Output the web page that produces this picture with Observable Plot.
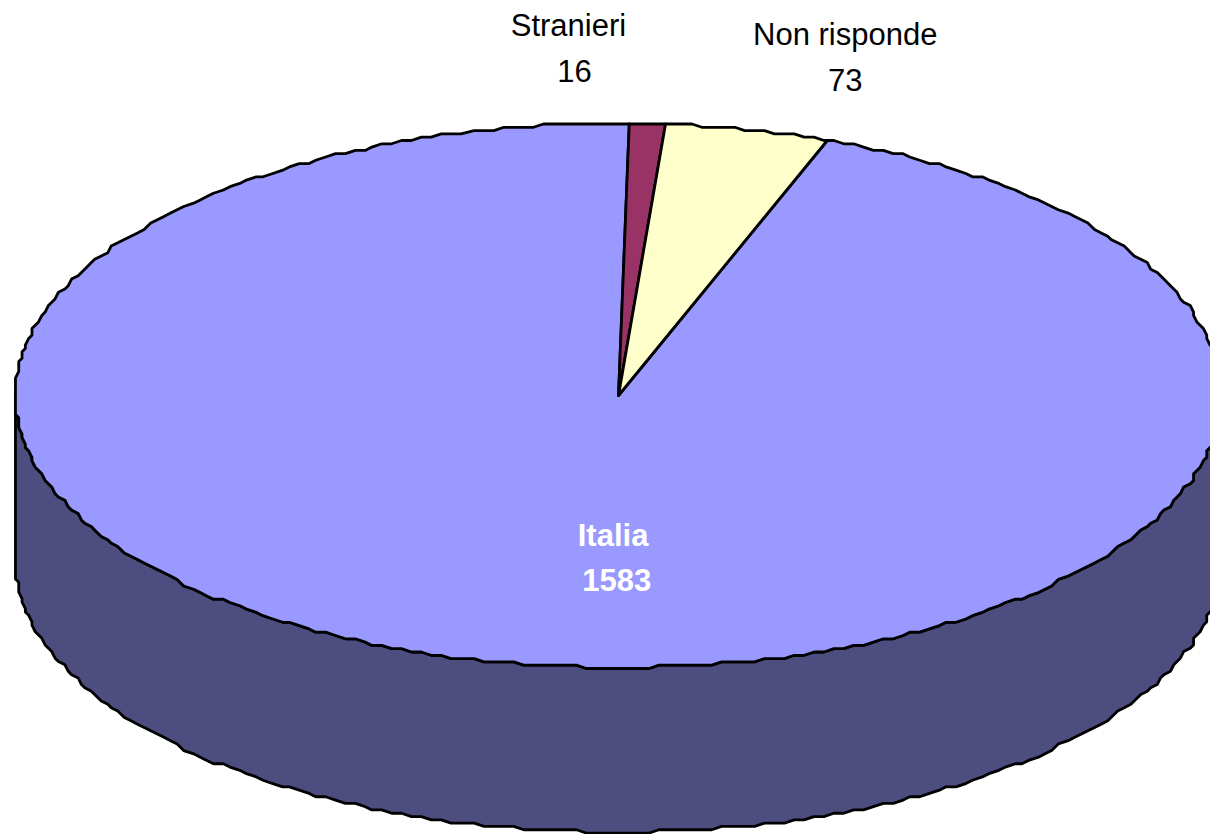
<!DOCTYPE html>
<html>
<head>
<meta charset="utf-8">
<script src="https://cdn.jsdelivr.net/npm/d3@7"></script>
<script src="https://cdn.jsdelivr.net/npm/@observablehq/plot@0.6"></script>
<style>
  html, body { margin: 0; padding: 0; background: #fff; }
  svg { display: block; }
</style>
</head>
<body>
<div id="chart"></div>
<script>
// Survey respondents by origin
const names = ["Stranieri", "Non risponde", "Italia"];
const counts = [16, 73, 1583];
const fills = ["#993366", "#ffffcc", "#9999ff"];
const wallFill = "#4d4d80";

const firstAngle = 1;          // degrees clockwise from the top of the disc
const depth = 0.605;           // disc thickness, in radii of the vertical axis
const rimStep = 1;             // degrees between outline vertices
const gridX = 3.3 / 603;       // coarse outline grid, in disc units
const gridY = 3.3 / 272;
const phaseX = 0.5 * gridX + 1 - 1.6 / 603;
const phaseY = 0.5 * gridY + 1 - 0.66 / 272;

const snap = (v, grid, phase) => Math.round((v + phase) / grid) * grid - phase;

// Point on the rim at a given angle, stepped onto the outline grid
function rim(angle, drop = 0) {
  const a = angle * Math.PI / 180;
  return {
    x: snap(Math.sin(a), gridX, phaseX),
    y: snap(Math.cos(a), gridY, phaseY) - drop
  };
}

// Vertices sit on a fixed angular lattice so every arc shares the same outline
function arc(from, to, drop = 0) {
  const angles = [from];
  for (let k = Math.floor(from / rimStep) + 1; k * rimStep < to; ++k) angles.push(k * rimStep);
  angles.push(to);
  return angles.map((a) => rim(a, drop));
}

// Slice angles follow from the counts
const total = d3.sum(counts);
let running = firstAngle;
const slices = names.map((name, i) => {
  const start = running;
  running += counts[i] / total * 360;
  return {name, start, end: running, fill: fills[i]};
});

const wedge = (s) => [{x: 0, y: 0}, ...arc(s.start, s.end), {x: 0, y: 0}];
const wall = [...arc(90, 270), ...arc(90, 270, depth).reverse()];
wall.push(wall[0]);

const outline = {stroke: "#000", strokeWidth: 2.8, strokeLinejoin: "round", strokeLinecap: "round"};
const font = {fontFamily: "'Liberation Sans', Arial, sans-serif", fontSize: 31};

const lookup = (name) => counts[names.indexOf(name)];
const darkRows = [
  {text: "Stranieri", x: -0.083, y: 1.357},
  {text: String(lookup("Stranieri")), x: -0.073, y: 1.188},
  {text: "Non risponde", x: 0.376, y: 1.324},
  {text: String(lookup("Non risponde")), x: 0.376, y: 1.156}
];
const lightRows = [
  {text: "Italia", x: -0.009, y: -0.515},
  {text: String(lookup("Italia")), x: -0.003, y: -0.684}
];

const chart = Plot.plot({
  width: 1210,
  height: 834,
  margin: 0,
  style: {background: "#fff"},
  x: {domain: [-1, 1], range: [15, 1221], axis: null},
  y: {domain: [1, -1], range: [123, 667], axis: null},
  marks: [
    Plot.line(wall, {x: "x", y: "y", fill: wallFill, ...outline}),
    ...[slices[2], slices[0], slices[1]].map((s) =>
      Plot.line(wedge(s), {x: "x", y: "y", fill: s.fill, ...outline})
    ),
    Plot.text(darkRows, {x: "x", y: "y", text: "text", fill: "#000", textAnchor: "middle", lineAnchor: "middle", ...font}),
    Plot.text(lightRows, {x: "x", y: "y", text: "text", fill: "#fff", fontWeight: "bold", textAnchor: "middle", lineAnchor: "middle", ...font})
  ]
});
document.getElementById("chart").append(chart);
</script>
</body>
</html>
